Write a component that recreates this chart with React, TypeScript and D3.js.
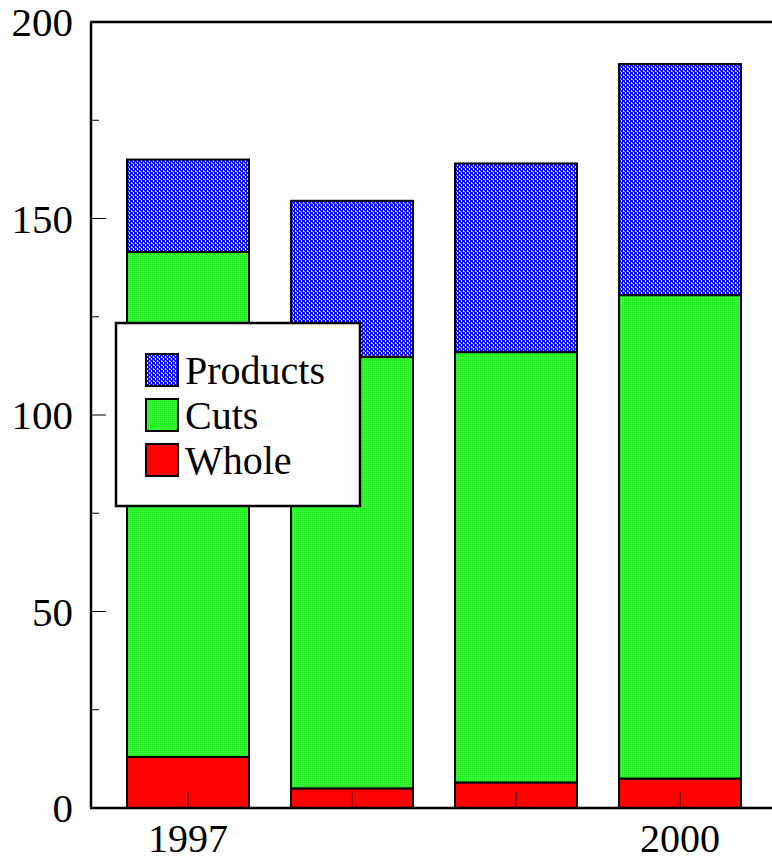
import React from "react";
import * as d3 from "d3";

const years = ["1997", "1998", "1999", "2000"];
const yearLabels = ["1997", "", "", "2000"];
const whole = [13, 5, 6.5, 7.5];
const cuts = [128.5, 109.8, 109.5, 123];
const products = [23.5, 39.7, 48, 58.8];
const seriesNames = ["Whole", "Cuts", "Products"];
const legendOrder = ["Products", "Cuts", "Whole"];
const yTicksMajor = [0, 50, 100, 150, 200];
const yTicksMinor = [25, 75, 125, 175];

const W = 772, H = 862;
const left = 91, top = 22, bottom = 808, right = 772;
const font = "'Liberation Serif', 'Times New Roman', Times, serif";

const fills: Record<string, string> = {
  Whole: "#ff0000",
  Cuts: "url(#pCuts)",
  Products: "url(#pProducts)",
};

export default function App() {
  const y = d3.scaleLinear().domain([0, 200]).range([bottom, top]);
  const x = d3.scaleBand().domain(years).range([106, 762]).paddingInner(0.256).paddingOuter(0.128);
  const table = years.map((yr, i) => ({ year: yr, Whole: whole[i], Cuts: cuts[i], Products: products[i] }));
  const stacked = d3.stack<any>().keys(seriesNames)(table);

  return (
    <svg width={W} height={H} style={{ position: "absolute", left: 0, top: 0, background: "#fff" }}>
      <defs>
        <pattern id="pProducts" width={4} height={4} patternUnits="userSpaceOnUse">
          <rect width={4} height={4} fill="#0a0aff" />
          <rect x={1} y={0} width={1} height={2} fill="#ffffff" />
          <rect x={3} y={2} width={1} height={2} fill="#d8d8ff" />
          <rect x={0} y={3} width={1} height={1} fill="#9090ff" />
        </pattern>
        <pattern id="pCuts" width={2} height={2} patternUnits="userSpaceOnUse">
          <rect width={2} height={2} fill="#2cff2c" />
          <rect x={0} y={0} width={1} height={1} fill="#22dd22" />
        </pattern>
      </defs>

      {stacked.map((s) =>
        s.map((d, i) => (
          <rect
            key={s.key + i}
            x={x(years[i])!}
            y={y(d[1])}
            width={x.bandwidth()}
            height={y(d[0]) - y(d[1])}
            fill={fills[s.key]}
            stroke="#000"
            strokeWidth={2}
          />
        ))
      )}

      {/* x ticks */}
      {years.map((yr) => (
        <line key={"xt" + yr} x1={x(yr)! + x.bandwidth() / 2} x2={x(yr)! + x.bandwidth() / 2} y1={bottom} y2={bottom - 16} stroke="#6a0000" strokeWidth={1.5} />
      ))}

      {/* frame */}
      <line x1={left} x2={left} y1={top} y2={bottom} stroke="#000" strokeWidth={2.5} />
      <line x1={left - 1} x2={right} y1={top} y2={top} stroke="#000" strokeWidth={2.5} />
      <line x1={left - 1} x2={right} y1={bottom} y2={bottom} stroke="#000" strokeWidth={2.5} />

      {/* y ticks */}
      {yTicksMajor.map((t) => (
        <line key={"ym" + t} x1={left} x2={left + 15} y1={y(t)} y2={y(t)} stroke="#000" strokeWidth={1} />
      ))}
      {yTicksMinor.map((t) => (
        <line key={"yn" + t} x1={left} x2={left + 8} y1={y(t)} y2={y(t)} stroke="#000" strokeWidth={1} />
      ))}
      {yTicksMajor.map((t) => (
        <text key={"yl" + t} x={73} y={y(t)} dy="0.35em" textAnchor="end" fontFamily={font} fontSize={41}>
          {t}
        </text>
      ))}

      {years.map((yr, i) => (
        <text key={"xl" + yr} x={x(yr)! + x.bandwidth() / 2} y={852} textAnchor="middle" fontFamily={font} fontSize={40}>
          {yearLabels[i]}
        </text>
      ))}

      {/* legend */}
      <rect x={116} y={323} width={244} height={183} fill="#fff" stroke="#000" strokeWidth={2.5} />
      {legendOrder.map((k, i) => (
        <g key={"lg" + k} transform={`translate(146, ${354 + i * 45})`}>
          <rect x={0} y={0} width={32} height={32} fill={fills[k]} stroke="#000" strokeWidth={2} />
          <text x={39} y={30} fontFamily={font} fontSize={40}>
            {k}
          </text>
        </g>
      ))}
    </svg>
  );
}
